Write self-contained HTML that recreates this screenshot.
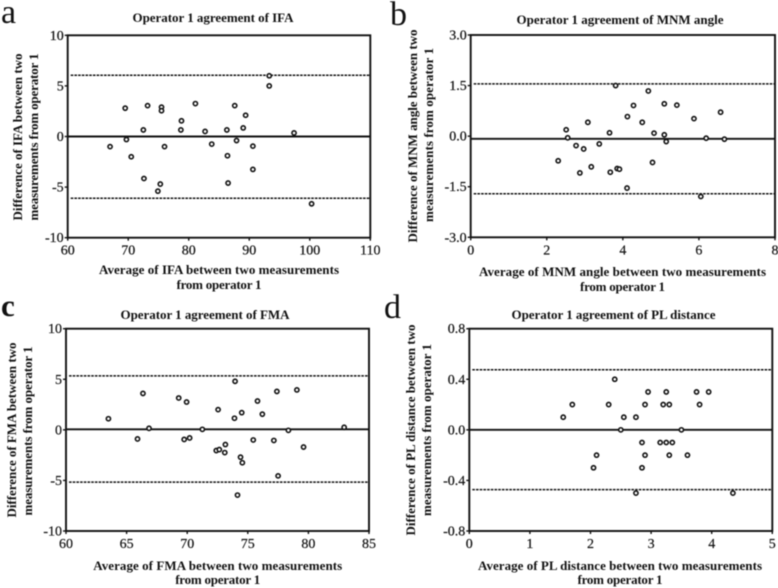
<!DOCTYPE html>
<html lang="en">
<head>
<meta charset="utf-8">
<title>Operator 1 agreement charts</title>
<style>
html,body{margin:0;padding:0;background:#fff;}
#figure{display:block;width:778px;height:588px;filter:blur(0.45px);font-family:"Liberation Serif",serif;}
.title,.xl,.yl{font-weight:bold;font-size:13px;text-anchor:middle;fill:#111;}
.letter{font-size:34px;fill:#111;}
.tick{font-size:14px;fill:#111;stroke:#111;stroke-width:0.2px;}
</style>
</head>
<body>
<svg id="figure" xmlns="http://www.w3.org/2000/svg" width="778" height="588" viewBox="0 0 778 588">
  <g id="panel-a">
    <text class="letter" x="1" y="23">a</text>
    <text class="title" x="213" y="22" textLength="161" lengthAdjust="spacing">Operator 1 agreement of IFA</text>
    <text class="xl" x="219" y="274" textLength="240" lengthAdjust="spacing">Average of IFA between two measurements</text>
    <text class="xl" x="219" y="289" textLength="85" lengthAdjust="spacing">from operator 1</text>
    <text class="yl" transform="translate(22,137) rotate(-90)" textLength="167" lengthAdjust="spacing">Difference of IFA between two</text>
    <text class="yl" transform="translate(38,137) rotate(-90)" textLength="167" lengthAdjust="spacing">measurements from operator 1</text>
  </g>
  <g id="panel-b">
    <text class="letter" x="390" y="25">b</text>
    <text class="title" x="620" y="24" textLength="207" lengthAdjust="spacing">Operator 1 agreement of MNM angle</text>
    <text class="xl" x="622.5" y="276" textLength="287" lengthAdjust="spacing">Average of MNM angle between two measurements</text>
    <text class="xl" x="622.5" y="291" textLength="85" lengthAdjust="spacing">from operator 1</text>
    <text class="yl" transform="translate(417,136) rotate(-90)" textLength="213" lengthAdjust="spacing">Difference of MNM angle between two</text>
    <text class="yl" transform="translate(433,135) rotate(-90)" textLength="174" lengthAdjust="spacing">measurements from operator 1</text>
  </g>
  <g id="panel-c">
    <text class="letter" x="1" y="316" font-weight="bold" style="font-size:31px">c</text>
    <text class="title" x="205" y="319" textLength="169" lengthAdjust="spacing">Operator 1 agreement of FMA</text>
    <text class="xl" x="217.7" y="570" textLength="249" lengthAdjust="spacing">Average of FMA between two measurements</text>
    <text class="xl" x="217.7" y="584" textLength="85" lengthAdjust="spacing">from operator 1</text>
    <text class="yl" transform="translate(16,430) rotate(-90)" textLength="175" lengthAdjust="spacing">Difference of FMA between two</text>
    <text class="yl" transform="translate(32,431) rotate(-90)" textLength="169" lengthAdjust="spacing">measurements from operator 1</text>
  </g>
  <g id="panel-d">
    <text class="letter" x="384" y="318">d</text>
    <text class="title" x="613.5" y="319" textLength="204" lengthAdjust="spacing">Operator 1 agreement of PL distance</text>
    <text class="xl" x="620" y="570" textLength="284" lengthAdjust="spacing">Average of PL distance between two measurements</text>
    <text class="xl" x="620" y="584" textLength="85" lengthAdjust="spacing">from operator 1</text>
    <text class="yl" transform="translate(415,430) rotate(-90)" textLength="211" lengthAdjust="spacing">Difference of PL distance between two</text>
    <text class="yl" transform="translate(431,430) rotate(-90)" textLength="172" lengthAdjust="spacing">measurements from operator 1</text>
  </g>
</svg>
<script>
// Panel a: IFA
const aAverage = [67.0,69.5,69.7,70.5,72.5,72.6,73.2,74.9,75.3,75.5,75.5,76.0,78.7,78.8,81.1,82.7,83.8,86.3,86.4,86.5,87.6,87.9,89.0,89.4,90.6,90.6,93.3,93.3,97.4,100.3];
const aDifference = [-1.0,2.8,-0.3,-2.0,0.65,-4.15,3.05,-5.4,-4.7,2.9,2.55,-1.0,0.65,1.55,3.25,0.5,-0.75,0.65,-1.9,-4.6,3.05,-0.4,0.85,2.1,-0.95,-3.25,6.0,5.0,0.35,-6.65];
const aMean = 0;
const aLimits = [6.05,-6.1];
const aXTicks = ["60","70","80","90","100","110"];
const aYTicks = ["10","5","0","-5","-10"];

// Panel b: MNM angle
const bAverage = [2.30,2.51,2.55,2.77,2.87,2.97,3.08,3.17,3.38,3.65,3.67,3.81,3.85,3.91,4.11,4.12,4.28,4.51,4.67,4.78,4.82,5.09,5.09,5.14,5.42,5.87,6.05,6.19,6.57,6.67];
const bDifference = [-0.73,0.19,-0.05,-0.28,-1.09,-0.38,0.41,-0.91,-0.23,0.10,-1.07,1.50,-0.96,-0.98,-1.54,0.58,0.91,0.41,1.34,-0.78,0.09,0.96,0.04,-0.16,0.92,0.52,-1.79,-0.06,0.71,-0.09];
const bMean = -0.08;
const bLimits = [1.55,-1.71];
const bXTicks = ["0","2","4","6","8"];
const bYTicks = ["3.0","1.5","0.0","-1.5","-3.0"];

// Panel c: FMA
const cAverage = [63.5,65.9,66.35,66.85,69.3,69.75,69.95,70.2,71.25,72.4,72.65,72.55,73.1,73.15,73.9,73.95,74.15,74.4,74.5,74.55,75.45,75.8,76.2,77.15,77.4,77.5,78.35,79.05,79.6,82.95];
const cDifference = [1.1,-0.9,3.6,0.15,3.15,-0.95,2.75,-0.8,0.05,-2.05,-1.95,2.0,-2.25,-1.45,1.15,4.8,-6.45,-2.7,1.7,-3.25,-1.0,2.85,1.55,-1.05,3.8,-4.55,-0.05,3.95,-1.7,0.25];
const cMean = 0.05;
const cLimits = [5.33,-5.17];
const cXTicks = ["60","65","70","75","80","85"];
const cYTicks = ["10","5","0","-5","-10"];

// Panel d: PL distance
const dAverage = [1.55,1.7,2.05,2.1,2.3,2.4,2.5,2.55,2.75,2.75,2.85,2.85,2.9,2.9,2.95,3.15,3.2,3.25,3.25,3.3,3.3,3.35,3.5,3.6,3.75,3.8,3.95,4.35];
const dDifference = [0.1,0.2,-0.3,-0.2,0.2,0.4,0,0.1,0.1,-0.5,-0.1,-0.3,0.2,-0.2,0.3,-0.1,0.2,0.3,-0.1,0.2,-0.2,-0.1,0,-0.2,0.3,0.2,0.3,-0.5];
const dMean = 0;
const dLimits = [0.475,-0.473];
const dXTicks = ["0","1","2","3","4","5"];
const dYTicks = ["0.8","0.4","0.0","-0.4","-0.8"];

const NS = "http://www.w3.org/2000/svg";

function make(parent, tag, attrs, text) {
  const el = document.createElementNS(NS, tag);
  Object.keys(attrs).forEach(function (k) { el.setAttribute(k, attrs[k]); });
  if (text !== undefined) el.textContent = text;
  parent.appendChild(el);
  return el;
}

function drawPanel(id, box, xs, ys, mean, limits, xTicks, yTicks) {
  const parent = document.getElementById("panel-" + id);
  const xMin = Number(xTicks[0]);
  const xMax = Number(xTicks[xTicks.length - 1]);
  const yMax = Number(yTicks[0]);
  const yMin = Number(yTicks[yTicks.length - 1]);
  const sx = function (v) { return box.left + (v - xMin) / (xMax - xMin) * (box.right - box.left); };
  const sy = function (v) { return box.top + (yMax - v) / (yMax - yMin) * (box.bottom - box.top); };

  const frame = make(parent, "rect", {x: box.left, y: box.top, width: box.right - box.left, height: box.bottom - box.top, fill: "none", stroke: "#111", "stroke-width": 1.9});
  
  

  xTicks.forEach(function (label) {
    const x = sx(Number(label));
    const mark = make(parent, "line", {x1: x, x2: x, y1: box.bottom, y2: box.bottom + 3, stroke: "#111", "stroke-width": 1.4});
    
    
    const text = make(parent, "text", {class: "tick", x: x, y: box.bottom + 17, "text-anchor": "middle"}, label);
    
    
  });

  yTicks.forEach(function (label) {
    const y = sy(Number(label));
    const mark = make(parent, "line", {x1: box.left - 3, x2: box.left, y1: y, y2: y, stroke: "#111", "stroke-width": 1.4});
    
    
    const text = make(parent, "text", {class: "tick", x: box.left - 4, y: y + 4.5, "text-anchor": "end"}, label);
    
    
  });

  const meanLine = make(parent, "line", {x1: box.left, x2: box.right, y1: sy(mean), y2: sy(mean), stroke: "#111", "stroke-width": 1.9});
  
  

  limits.forEach(function (v) {
    const limit = make(parent, "line", {x1: box.left + 3, x2: box.right, y1: sy(v), y2: sy(v), stroke: "#111", "stroke-width": 1.5, "stroke-dasharray": "2.6 1.1"});
    
    
  });

  xs.forEach(function (v, i) {
    const point = make(parent, "circle", {cx: sx(v), cy: sy(ys[i]), r: 2.1, fill: "#fff", stroke: "#111", "stroke-width": 1.6});
    
    
  });
}

drawPanel("a", {left: 67.7, right: 370.3, top: 35.3, bottom: 237.7}, aAverage, aDifference, aMean, aLimits, aXTicks, aYTicks);
drawPanel("b", {left: 470.7, right: 775, top: 35, bottom: 237.3}, bAverage, bDifference, bMean, bLimits, bXTicks, bYTicks);
drawPanel("c", {left: 66, right: 369, top: 328.7, bottom: 531}, cAverage, cDifference, cMean, cLimits, cXTicks, cYTicks);
drawPanel("d", {left: 469.3, right: 772.3, top: 328.7, bottom: 531}, dAverage, dDifference, dMean, dLimits, dXTicks, dYTicks);
</script>
</body>
</html>
